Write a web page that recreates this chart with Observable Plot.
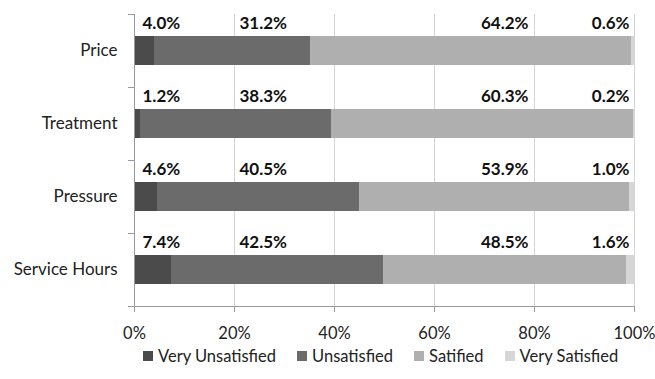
<!DOCTYPE html>
<html>
<head>
<meta charset="utf-8">
<script src="https://cdn.jsdelivr.net/npm/d3@7"></script>
<script src="https://cdn.jsdelivr.net/npm/@observablehq/plot@0.6"></script>
<style>
  body { margin: 0; background: #fff; font-family: Lato, "Open Sans", sans-serif; }
  #chart { width: 655px; }
  .legend { display: flex; justify-content: flex-start; padding-left: 143px; font-size: 16.5px; line-height: 20px; color: #222; margin-top: -2px; }
  .legend .item { display: flex; align-items: center; margin-right: 21px; }
  .legend .sw { width: 10px; height: 10px; margin-right: 5px; display: inline-block; }
</style>
</head>
<body>
<div id="chart"></div>
<script>
const categories = ["Price", "Treatment", "Pressure", "Service Hours"];
const series = ["Very Unsatisfied", "Unsatisfied", "Satified", "Very Satisfied"];
const veryUnsatisfied = [4.0, 1.2, 4.6, 7.4];
const unsatisfied = [31.2, 38.3, 40.5, 42.5];
const satisfied = [64.2, 60.3, 53.9, 48.5];
const verySatisfied = [0.6, 0.2, 1.0, 1.6];
const xTicks = [0, 0.2, 0.4, 0.6, 0.8, 1.0];
const colors = ["#4b4b4b", "#6b6b6b", "#afafaf", "#d6d6d6"];

const seriesValues = [veryUnsatisfied, unsatisfied, satisfied, verySatisfied];
const rows = [];
categories.forEach((c, i) => {
  series.forEach((s, j) => {
    rows.push({category: c, series: s, value: seriesValues[j][i] / 100});
  });
});

// label anchoring per series (layout, not data)
const labelAnchor = {
  "Very Unsatisfied": {x: 0, dx: 8, anchor: "start"},
  "Unsatisfied": {x: 0.2, dx: 5, anchor: "start"},
  "Satified": {x: 0.8, dx: -6, anchor: "end"},
  "Very Satisfied": {x: 1, dx: -5, anchor: "end"}
};

const font = "Lato, 'Open Sans', sans-serif";
const gridColor = "#d4d4d4";
const axisColor = "#9a9a9a";

const labelMarks = series.map(s => Plot.text(rows.filter(r => r.series === s), {
  x: () => labelAnchor[s].x,
  y: "category",
  text: d => (d.value * 100).toFixed(1) + "%",
  dx: labelAnchor[s].dx,
  dy: -27,
  textAnchor: labelAnchor[s].anchor,
  fontSize: 17,
  fontWeight: "bold",
  fill: "#111"
}));

const chart = Plot.plot({
  width: 655,
  height: 348,
  marginLeft: 134,
  marginRight: 21,
  marginTop: 14,
  marginBottom: 42,
  style: {fontFamily: font, fontSize: "16px", color: "#222", background: "#fff", overflow: "visible"},
  x: {domain: [0, 1], label: null},
  y: {domain: categories, paddingInner: 0.6, paddingOuter: 0.3, label: null},
  color: {domain: series, range: colors},
  marks: [
    Plot.gridX(xTicks.slice(1), {stroke: gridColor, strokeOpacity: 1}),
    Plot.barX(rows, Plot.stackX({x: "value", y: "category", fill: "series", order: series})),
    Plot.ruleX([0], {stroke: axisColor}),
    Plot.ruleY(categories, {y: d => d, dy: -36.5, x1: 0, x2: 0, insetLeft: -6, stroke: axisColor}),
    Plot.ruleY([categories[categories.length - 1]], {y: d => d, dy: 36.5, insetLeft: -6, stroke: axisColor}),
    Plot.axisX({ticks: xTicks, tickFormat: d => Math.round(d * 100) + "%", tickSize: 6, stroke: axisColor, tickPadding: 15, fontSize: 16.5, fill: "#222"}),
    Plot.axisY({tickSize: 0, tickPadding: 17, fontSize: 17, fill: "#222"}),
    ...labelMarks
  ]
});
document.getElementById("chart").appendChild(chart);

const legend = document.createElement("div");
legend.className = "legend";
series.forEach((s, i) => {
  const item = document.createElement("span");
  item.className = "item";
  const sw = document.createElement("span");
  sw.className = "sw";
  sw.style.background = colors[i];
  item.appendChild(sw);
  item.appendChild(document.createTextNode(s));
  legend.appendChild(item);
});
document.getElementById("chart").appendChild(legend);
</script>
</body>
</html>
